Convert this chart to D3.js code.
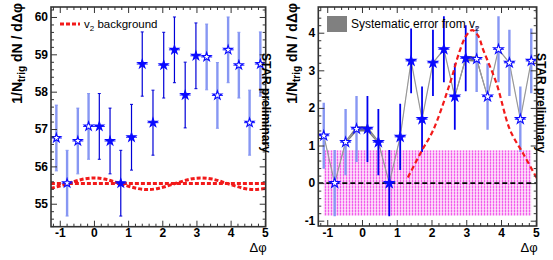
<!DOCTYPE html>
<html>
<head>
<meta charset="utf-8">
<script src="https://cdn.jsdelivr.net/npm/d3@7"></script>
<style>
  body { margin: 0; background: #fff; }
  svg { display: block; font-family: "Liberation Sans", Arial, Helvetica, sans-serif; }
</style>
</head>
<body>
<svg id="chart" width="553" height="260"></svg>
<script>
// bin centres (delta phi), same for both pads
const dphi = [-1.0996, -0.7854, -0.4712, -0.1571, 0.1571, 0.4712, 0.7854, 1.0996, 1.4137, 1.7279,
              2.0420, 2.3562, 2.6704, 2.9845, 3.2987, 3.6128, 3.9270, 4.2412, 4.5553, 4.8695];
// left pad: raw correlation
const rawYield = [56.76, 55.55, 56.68, 57.07, 57.07, 56.68, 55.55, 56.78, 58.74, 57.17,
                  58.71, 59.12, 57.91, 58.96, 58.93, 57.90, 59.12, 58.71, 57.17, 58.74];
const statErr = [0.88, 0.88, 0.88, 0.88, 0.88, 0.88, 0.88, 0.88, 0.86, 0.87,
                 0.88, 0.88, 0.88, 0.88, 0.88, 0.88, 0.88, 0.88, 0.87, 0.86];
// left pad: v2 background curves
const bkgX = [-1.26, -0.94, -0.63, -0.31, 0, 0.31, 0.63, 0.94, 1.26, 1.57, 1.88,
              2.2, 2.51, 2.83, 3.14, 3.46, 3.77, 4.08, 4.4, 4.71, 5.03];
const bkgY = [55.41, 55.49, 55.58, 55.66, 55.69, 55.66, 55.58, 55.49, 55.41, 55.38, 55.41,
              55.49, 55.58, 55.66, 55.69, 55.66, 55.58, 55.49, 55.41, 55.38, 55.41];
const flatX = [-1.26, 5.03];
const flatY = [55.54, 55.54];
// right pad: background subtracted
const subYield = [1.26, 0.00, 1.09, 1.44, 1.44, 1.09, 0.00, 1.23, 3.25, 1.70,
                  3.20, 3.56, 2.30, 3.32, 3.30, 2.30, 3.56, 3.20, 1.70, 3.25];
const sysErr = [0.02, 0.00, 0.04, 0.07, 0.07, 0.04, 0.00, 0.02, 0.01, 0.01,
                0.01, 0.00, 0.03, 0.07, 0.07, 0.03, 0.00, 0.01, 0.01, 0.01];
// right pad: red dashed peak
const peakX = [1.32, 1.72, 2.05, 2.53, 2.82, 3.0, 3.17, 3.34, 3.49, 3.87, 4.26, 4.64, 5.03];
const peakY = [0.15, 0.86, 1.41, 2.65, 3.54, 3.92, 4.07, 3.92, 3.54, 2.65, 1.41, 0.78, 0.13];
// right pad: pink systematic box
const boxX = [-1.0996, 4.8695];
const boxY = [-0.87, 0.87];

const xTicks = [-1, 0, 1, 2, 3, 4, 5];
const leftYTicks = [55, 56, 57, 58, 59, 60];
const rightYTicks = [-1, 0, 1, 2, 3, 4];
const xDomain = [-1.2566, 5.0265];

const svg = d3.select("#chart");
const defs = svg.append("defs");

// pink hatch used by ROOT fill
const pat = defs.append("pattern").attr("id", "pinkHatch")
  .attr("patternUnits", "userSpaceOnUse").attr("width", 3).attr("height", 3);
pat.append("rect").attr("width", 3).attr("height", 3).attr("fill", "#fcc8f7");
pat.append("rect").attr("x", 1).attr("width", 1).attr("height", 3).attr("fill", "#f25cec");
pat.append("rect").attr("y", 2).attr("width", 3).attr("height", 1).attr("fill", "#fff").attr("opacity", 0.4);

const starPath = d3.symbol().type(d3.symbolStar).size(24)();

function minorTicks(lo, hi) {
  return d3.range(Math.round(lo * 5), Math.round(hi * 5) + 1)
    .map(k => k / 5).filter(v => Math.abs(v - Math.round(v)) > 1e-6);
}

function frame(g, x, y, yTicks, id) {
  const [x0, x1] = x.range();
  const [y1, y0] = y.range();
  defs.append("clipPath").attr("id", id).append("rect")
    .attr("x", x0).attr("y", y0).attr("width", x1 - x0).attr("height", y1 - y0);

  const fmt = d => String(d);
  const xm = minorTicks(-1.2, 5.0);
  const yd = y.domain();
  const ym = minorTicks(Math.ceil(yd[0] * 5) / 5, Math.floor(yd[1] * 5) / 5);

  const axes = g.append("g").attr("class", "axes");
  axes.append("g").attr("transform", `translate(0,${y1})`)
    .call(d3.axisBottom(x).tickValues(xTicks).tickFormat(fmt).tickSizeInner(-6).tickSizeOuter(0).tickPadding(2));
  axes.append("g").attr("transform", `translate(0,${y1})`)
    .call(d3.axisBottom(x).tickValues(xm).tickFormat("").tickSizeInner(-3).tickSizeOuter(0));
  axes.append("g").attr("transform", `translate(0,${y0})`)
    .call(d3.axisTop(x).tickValues(xTicks).tickFormat("").tickSizeInner(-6).tickSizeOuter(0));
  axes.append("g").attr("transform", `translate(0,${y0})`)
    .call(d3.axisTop(x).tickValues(xm).tickFormat("").tickSizeInner(-3).tickSizeOuter(0));
  axes.append("g").attr("transform", `translate(${x0},0)`)
    .call(d3.axisLeft(y).tickValues(yTicks).tickFormat(fmt).tickSizeInner(-6).tickSizeOuter(0).tickPadding(3));
  axes.append("g").attr("transform", `translate(${x0},0)`)
    .call(d3.axisLeft(y).tickValues(ym).tickFormat("").tickSizeInner(-3).tickSizeOuter(0));
  axes.append("g").attr("transform", `translate(${x1},0)`)
    .call(d3.axisRight(y).tickValues(yTicks).tickFormat("").tickSizeInner(-6).tickSizeOuter(0));
  axes.append("g").attr("transform", `translate(${x1},0)`)
    .call(d3.axisRight(y).tickValues(ym).tickFormat("").tickSizeInner(-3).tickSizeOuter(0));

  axes.selectAll(".domain").remove();
  axes.selectAll(".tick line").attr("stroke", "#333").attr("stroke-width", 1);
  axes.selectAll(".tick text").attr("fill", "#000")
    .style("font-size", "12px").style("font-weight", "bold");

  g.append("rect").attr("x", x0).attr("y", y0).attr("width", x1 - x0).attr("height", y1 - y0)
    .attr("fill", "none").attr("stroke", "#333").attr("stroke-width", 1.6);
}

function yTitle(g, tx, ty) {
  const t = g.append("text").attr("transform", `translate(${tx},${ty}) rotate(-90)`)
    .attr("text-anchor", "end").style("font-size", "14px").style("font-weight", "bold");
  t.append("tspan").text("1/N");
  t.append("tspan").attr("dy", 3).style("font-size", "10px").text("trig");
  t.append("tspan").attr("dy", -3).text(" dN / d\u0394\u03c6");
}

function decorations(g, x, y, starX) {
  g.append("text").attr("transform", `translate(${starX},${y.range()[1] + 46}) rotate(90)`)
    .style("font-size", "12px").style("font-weight", "bold").text("STAR preliminary");
  g.append("text").attr("x", x.range()[1] + 1).attr("y", 252)
    .attr("text-anchor", "end").style("font-size", "13px").text("\u0394\u03c6");
}

function drawStars(g, x, y, vals, isOpen, size) {
  g.append("g").selectAll("line").data(dphi).join("line")
    .attr("x1", d => x(d) - 5.5).attr("x2", d => x(d) + 5.5)
    .attr("y1", (d, i) => y(vals[i])).attr("y2", (d, i) => y(vals[i]))
    .attr("stroke", "#1a1aff").attr("stroke-width", 1);
  g.append("g").selectAll("path").data(dphi).join("path")
    .attr("d", starPath)
    .attr("transform", (d, i) => `translate(${x(d)},${y(vals[i])}) scale(${size})`)
    .attr("fill", (d, i) => isOpen(d) ? "#fff" : "#0a0aff")
    .attr("stroke", "#0a0aff").attr("stroke-width", 1.1 / size);
}

const openBin = d => d < 0 || d > Math.PI;
const lightBlue = "#8797f3";

// ---------- left pad ----------
{
  const g = svg.append("g");
  const x = d3.scaleLinear().domain(xDomain).range([51, 265.7]);
  const y = d3.scaleLinear().domain([54.385, 60.267]).range([226.7, 7]);
  const plot = g.append("g").attr("clip-path", "url(#clipL)");

  const ln = d3.line().x(d => x(d[0])).y(d => y(d[1]));
  plot.append("path").datum(flatX.map((v, i) => [v, flatY[i]])).attr("d", ln)
    .attr("fill", "none").attr("stroke", "#f21a1a").attr("stroke-width", 3).attr("stroke-dasharray", "4,2");
  plot.append("path").datum(bkgX.map((v, i) => [v, bkgY[i]])).attr("d", ln.curve(d3.curveNatural))
    .attr("fill", "none").attr("stroke", "#f21a1a").attr("stroke-width", 3).attr("stroke-dasharray", "4,2");

  // error bars
  const eb = plot.append("g").selectAll("g").data(dphi).join("g");
  eb.append("line")
    .attr("x1", d => x(d)).attr("x2", d => x(d))
    .attr("y1", (d, i) => y(rawYield[i] - statErr[i])).attr("y2", (d, i) => y(rawYield[i] + statErr[i]))
    .attr("stroke", d => openBin(d) ? lightBlue : "#0000d8")
    .attr("stroke-width", d => openBin(d) ? 2.4 : 1.2);
  [-1, 1].forEach(s => {
    eb.append("line")
      .attr("x1", d => x(d) - 1.5).attr("x2", d => x(d) + 1.5)
      .attr("y1", (d, i) => y(rawYield[i] + s * statErr[i])).attr("y2", (d, i) => y(rawYield[i] + s * statErr[i]))
      .attr("stroke", d => openBin(d) ? lightBlue : "#0000d8").attr("stroke-width", 1);
  });
  drawStars(plot, x, y, rawYield, openBin, 1);

  frame(g, x, y, leftYTicks, "clipL");
  yTitle(g, 22, 3);
  decorations(g, x, y, 261.5);

  // legend
  g.append("line").attr("x1", 60).attr("x2", 80).attr("y1", 24).attr("y2", 24)
    .attr("stroke", "#f21a1a").attr("stroke-width", 3).attr("stroke-dasharray", "4,2");
  const lt = g.append("text").attr("x", 84).attr("y", 27.5).style("font-size", "11.5px");
  lt.append("tspan").text("v");
  lt.append("tspan").attr("dy", 3).style("font-size", "8px").text("2");
  lt.append("tspan").attr("dy", -3).text(" background");
}

// ---------- right pad ----------
{
  const g = svg.append("g");
  const x = d3.scaleLinear().domain(xDomain).range([318.3, 536.7]);
  const y = d3.scaleLinear().domain([-1.141, 4.684]).range([226, 7]);
  const plot = g.append("g").attr("clip-path", "url(#clipR)");

  plot.append("rect")
    .attr("x", x(boxX[0])).attr("width", x(boxX[1]) - x(boxX[0]))
    .attr("y", y(boxY[1])).attr("height", y(boxY[0]) - y(boxY[1]))
    .attr("fill", "url(#pinkHatch)");

  plot.append("line").attr("x1", x(xDomain[0])).attr("x2", x(xDomain[1]))
    .attr("y1", y(0)).attr("y2", y(0))
    .attr("stroke", "#000").attr("stroke-width", 1.6).attr("stroke-dasharray", "5,3");

  // systematic band + connecting line
  const pts = dphi.map((d, i) => ({ x: d, y: subYield[i], e: sysErr[i] }));
  plot.append("path").datum(pts)
    .attr("d", d3.area().x(d => x(d.x)).y0(d => y(d.y - d.e)).y1(d => y(d.y + d.e)))
    .attr("fill", "#7a7a7a");
  plot.append("path").datum(pts)
    .attr("d", d3.line().x(d => x(d.x)).y(d => y(d.y)))
    .attr("fill", "none").attr("stroke", "#999").attr("stroke-width", 1.2);

  plot.append("g").selectAll("line").data(dphi).join("line")
    .attr("x1", d => x(d)).attr("x2", d => x(d))
    .attr("y1", (d, i) => y(subYield[i] - statErr[i])).attr("y2", (d, i) => y(subYield[i] + statErr[i]))
    .attr("stroke", d => openBin(d) ? lightBlue : "#0000f0")
    .attr("stroke-width", d => openBin(d) ? 2.4 : 1.8);

  plot.append("path").datum(peakX.map((v, i) => [v, peakY[i]]))
    .attr("d", d3.line().x(d => x(d[0])).y(d => y(d[1])).curve(d3.curveCatmullRom))
    .attr("fill", "none").attr("stroke", "#f21a1a").attr("stroke-width", 2.2).attr("stroke-dasharray", "5,3");

  drawStars(plot, x, y, subYield, openBin, 1.1);

  frame(g, x, y, rightYTicks, "clipR");
  yTitle(g, 297, 3);
  decorations(g, x, y, 537);

  // legend
  g.append("rect").attr("x", 327).attr("y", 16).attr("width", 20).attr("height", 16).attr("fill", "#808080");
  const lt = g.append("text").attr("x", 351).attr("y", 27.5).style("font-size", "12px");
  lt.append("tspan").text("Systematic error from v");
  lt.append("tspan").attr("dy", 3).style("font-size", "8px").text("2");
}
</script>
</body>
</html>
